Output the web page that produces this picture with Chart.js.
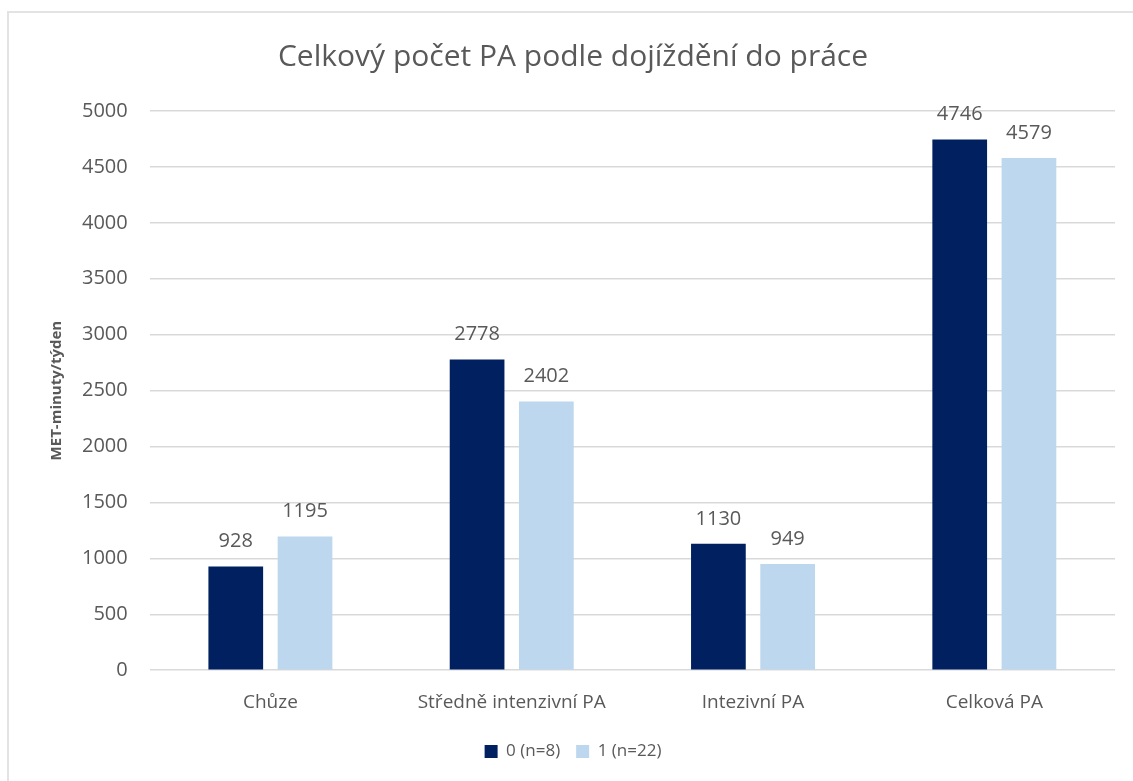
<!DOCTYPE html>
<html lang="cs">
<head>
  <meta charset="UTF-8">
  <title>Celkový počet PA podle dojíždění do práce</title>
  <script src="https://cdn.jsdelivr.net/npm/chart.js"></script>
  <style>
    body { margin: 0; background: #fff; }
    .frame { position: absolute; left: 7px; top: 11px; width: 1200px; height: 900px; border: 2px solid #e3e3e3; }
    .wrap { position: absolute; left: 0; top: 0; width: 1133px; height: 781px; }
  </style>
</head>
<body>
  <div class="frame"></div>
  <div class="wrap"><canvas id="chart"></canvas></div>

  <script>
    const categories = ['Chůze', 'Středně intenzivní PA', 'Intezivní PA', 'Celková PA'];
    const group0 = [928, 2778, 1130, 4746];
    const group1 = [1195, 2402, 949, 4579];
    const seriesNames = ['0 (n=8)', '1 (n=22)'];

    const grey = '#595959';
    const font = 'Open Sans';

    // value labels above each bar
    const barLabels = {
      id: 'barLabels',
      afterDatasetsDraw(chart) {
        const ctx = chart.ctx;
        ctx.save();
        ctx.font = '20px "' + font + '"';
        ctx.fillStyle = grey;
        ctx.textAlign = 'center';
        ctx.textBaseline = 'middle';
        chart.data.datasets.forEach((ds, i) => {
          chart.getDatasetMeta(i).data.forEach((bar, j) => {
            ctx.fillText(ds.data[j], bar.x, bar.y - 25);
          });
        });
        ctx.restore();
      }
    };

    new Chart(document.getElementById('chart'), {
      type: 'bar',
      data: {
        labels: categories,
        datasets: [
          { label: seriesNames[0], data: group0, backgroundColor: '#002060' },
          { label: seriesNames[1], data: group1, backgroundColor: '#bdd7ee' }
        ]
      },
      options: {
        responsive: true,
        maintainAspectRatio: false,
        animation: false,
        categoryPercentage: 0.574,
        barPercentage: 0.79,
        layout: { padding: { left: 31, right: 18, top: 0, bottom: 11 } },
        plugins: {
          title: {
            display: true,
            text: 'Celkový počet PA podle dojíždění do práce',
            color: grey,
            font: { family: font, size: 30, weight: 'normal' },
            padding: { top: 39, bottom: 36 }
          },
          legend: {
            position: 'bottom',
            labels: {
              color: grey,
              font: { family: font, size: 17 },
              boxWidth: 13,
              boxHeight: 13,
              padding: 16
            }
          },
          tooltip: { enabled: false }
        },
        scales: {
          x: {
            grid: { display: false },
            border: { display: false },
            ticks: { color: grey, font: { family: font, size: 19 }, padding: 13 }
          },
          y: {
            min: 0,
            max: 5000,
            ticks: {
              stepSize: 500,
              color: grey,
              font: { family: font, size: 20 },
              padding: 22,
              callback: v => String(v)
            },
            grid: { color: '#d9d9d9', lineWidth: 1.5, drawTicks: false },
            border: { display: false },
            title: {
              display: true,
              text: 'MET-minuty/týden',
              color: grey,
              font: { family: font, size: 15, weight: 'bold' },
              padding: { top: 17, bottom: -6 }
            }
          }
        }
      },
      plugins: [barLabels]
    });
  </script>
</body>
</html>
